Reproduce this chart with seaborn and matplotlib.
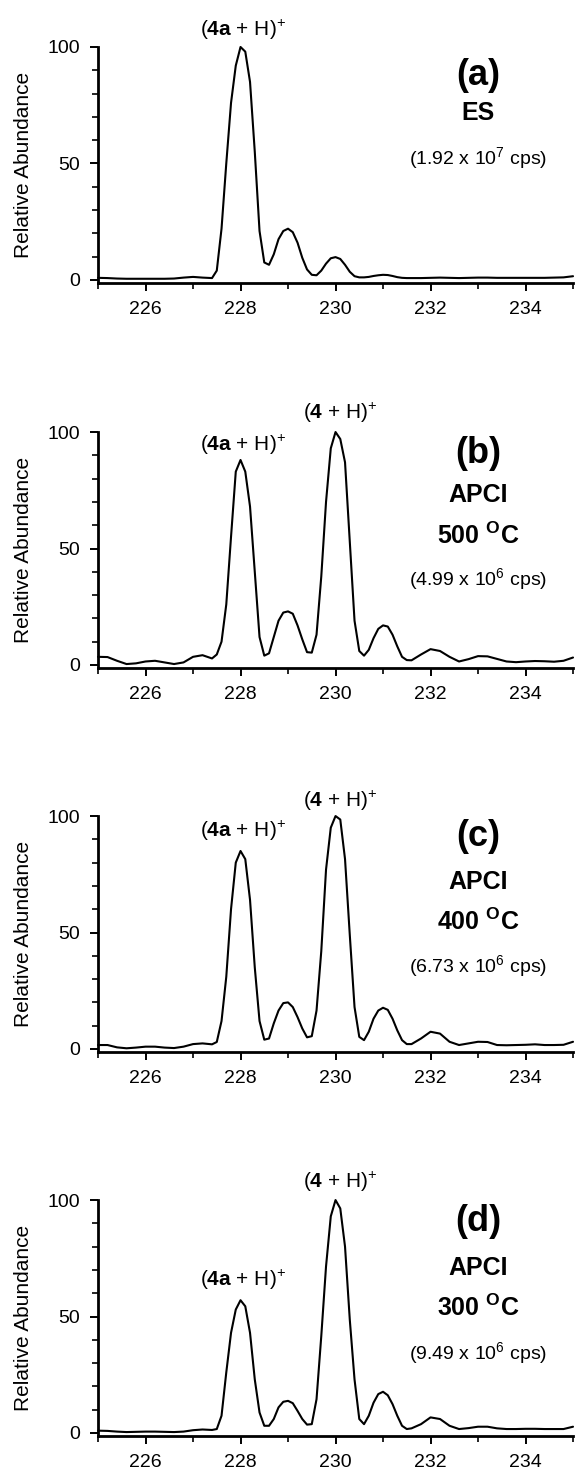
import matplotlib
matplotlib.use("Agg")
import pandas as pd
import matplotlib.pyplot as plt
import seaborn as sns

# m/z sampling points
mz = [225.0, 225.2, 225.4, 225.6, 225.8, 226.0, 226.2, 226.4, 226.6, 226.8, 227.0, 227.2, 227.4,
      227.5, 227.6, 227.7, 227.8, 227.9, 228.0, 228.1, 228.2, 228.3, 228.4, 228.5, 228.6, 228.7,
      228.8, 228.9, 229.0, 229.1, 229.2, 229.3, 229.4, 229.5, 229.6, 229.7, 229.8, 229.9, 230.0,
      230.1, 230.2, 230.3, 230.4, 230.5, 230.6, 230.7, 230.8, 230.9, 231.0, 231.1, 231.2, 231.3,
      231.4, 231.5, 231.6,
      231.8, 232.0, 232.2, 232.4, 232.6, 232.8, 233.0, 233.2, 233.4, 233.6, 233.8, 234.0, 234.2,
      234.4, 234.6, 234.8, 235.0]

# (a) ES
es = [0.9, 0.8, 0.6, 0.5, 0.5, 0.5, 0.5, 0.5, 0.6, 1.0, 1.3, 1.0, 0.8,
      4, 22, 50, 76, 92, 100, 98, 85, 55, 21, 7.5, 6.5, 11,
      17.5, 21, 22, 20.5, 16, 9.5, 4.5, 2.2, 2.0, 4, 7, 9.3, 9.8,
      9, 6.5, 3.5, 1.6, 1.1, 1.1, 1.3, 1.7, 2.0, 2.2, 2.1, 1.7, 1.2,
      0.9, 0.8, 0.8,
      0.8, 0.9, 1.0, 0.9, 0.8, 0.9, 1.0, 1.0, 0.9, 0.9, 0.9, 0.9, 0.9,
      0.9, 1.0, 1.1, 1.6]

# (b) APCI 500 C
apci_500 = [3.5, 3.4, 1.8, 0.4, 0.7, 1.5, 1.8, 1.1, 0.4, 1.1, 3.5, 4.2, 2.8,
            4.5, 10, 26, 55, 83, 88, 83, 68, 40, 12, 4, 5, 12,
            19, 22.5, 23, 22, 17, 11, 5.5, 5.3, 13, 38, 70, 93, 100,
            97, 87, 53, 19, 6, 4, 6.5, 11.5, 15.5, 17, 16.5, 13, 8,
            3.5, 2.1, 2.0,
            4.5, 6.8, 6, 3.5, 1.5, 2.5, 3.8, 3.7, 2.6, 1.5, 1.2, 1.5, 1.7,
            1.6, 1.4, 1.8, 3.2]

# (c) APCI 400 C
apci_400 = [1.7, 1.7, 0.7, 0.3, 0.6, 1.0, 1.0, 0.6, 0.4, 1.0, 2.1, 2.4, 2.0,
            3, 12, 31, 60, 80, 85, 81.5, 64, 35, 12, 4, 4.5, 11,
            16.5, 19.7, 20, 18, 13.7, 8.8, 5, 5.5, 16.5, 42, 77, 95, 100,
            98.5, 81.5, 49, 18, 5.2, 3.8, 7.4, 13, 16.5, 17.7, 16.8, 13, 8,
            3.8, 2.1, 2.1,
            4.5, 7.4, 6.6, 3.1, 1.7, 2.4, 3.1, 3.0, 1.7, 1.6, 1.7, 1.8, 2.0,
            1.7, 1.7, 1.8, 3.1]

# (d) APCI 300 C
apci_300 = [1.0, 0.9, 0.6, 0.4, 0.5, 0.6, 0.6, 0.5, 0.4, 0.6, 1.2, 1.5, 1.3,
            1.7, 7.4, 26, 43, 53, 57, 54.4, 43, 23, 8.8, 3.1, 3.1, 6,
            11, 13.4, 13.8, 12.8, 9.5, 6, 3.6, 3.8, 14.5, 41.6, 71.5, 93, 100,
            96.4, 80, 48.7, 23, 6, 3.8, 7.4, 13, 16.7, 17.7, 16.2, 12.4, 7.4,
            3.1, 1.7, 2.0,
            3.8, 6.7, 6, 3.1, 1.7, 2.1, 2.7, 2.7, 2.0, 1.7, 1.7, 1.8, 1.8,
            1.7, 1.7, 1.7, 2.7]

spectra = [es, apci_500, apci_400, apci_300]
panel_tags = ["(a)", "(b)", "(c)", "(d)"]
panel_modes = ["ES", "APCI", "APCI", "APCI"]
panel_temps = [None, "500", "400", "300"]
panel_counts = ["1.92 x 10$^{7}$", "4.99 x 10$^{6}$", "6.73 x 10$^{6}$", "9.49 x 10$^{6}$"]
peak_4a = "($\\mathbf{4a}$ + H)$^{+}$"
peak_4 = "($\\mathbf{4}$ + H)$^{+}$"

sns.set_theme(style="ticks")
plt.rcParams['font.family'] = ['Liberation Sans', 'DejaVu Sans']
plt.rcParams['mathtext.fontset'] = 'custom'
plt.rcParams['mathtext.rm'] = 'Liberation Sans'
plt.rcParams['mathtext.it'] = 'Liberation Sans:italic'
plt.rcParams['mathtext.bf'] = 'Liberation Sans:bold'
plt.rcParams['text.color'] = 'black'
plt.rcParams['axes.labelcolor'] = 'black'

fig = plt.figure(figsize=(5.78, 14.73), dpi=100)
bottoms = [0.8079, 0.5465, 0.2858, 0.0251]

# label baselines (data units) per panel
y_4a = [104.6, 92, 90.8, 63]
y_4 = [None, 105.6, 104, 105]
y_tag = [83.5, 86.5, 87.2, 86.8]
y_mode = [68.8, 70, 68.8, 68]
y_temp = [None, 52, 51.2, 50.2]
y_cnt = [49.9, 34.3, 32.8, 31.6]

for i in range(4):
    ax = fig.add_axes([0.1696, bottoms[i], 0.8218, 0.1602])
    df = pd.DataFrame({"mz": mz, "abundance": spectra[i]})
    sns.lineplot(data=df, x="mz", y="abundance", ax=ax, color="black",
                 linewidth=1.5, clip_on=False)
    ax.set_xlim(225, 235)
    ax.set_ylim(-1.3, 100)
    ax.set_xticks([226, 228, 230, 232, 234])
    ax.set_xticks([225, 227, 229, 231, 233, 235], minor=True)
    ax.set_yticks([0, 50, 100])
    ax.set_yticks(list(range(0, 101, 10)), minor=True)
    ax.set_xlabel("")
    ax.set_ylabel("Relative Abundance", fontsize=15)
    ax.yaxis.set_label_coords(-0.137, 0.5)
    sns.despine(ax=ax)
    for s in ["left", "bottom"]:
        ax.spines[s].set_linewidth(2)
        ax.spines[s].set_color("black")
    ax.tick_params(which="major", length=5.8, width=1.4, labelsize=14, pad=7,
                   color="black", labelcolor="black")
    ax.tick_params(which="minor", length=4.3, width=1.2, color="black")

    ax.text(228.05, y_4a[i], peak_4a, ha="center", va="baseline", fontsize=15)
    if y_4[i] is not None:
        ax.text(230.1, y_4[i], peak_4, ha="center", va="baseline", fontsize=15)

    ax.text(233.0, y_tag[i], panel_tags[i], ha="center", va="baseline",
            fontsize=26, fontweight="bold")
    ax.text(233.0, y_mode[i], panel_modes[i], ha="center", va="baseline",
            fontsize=18, fontweight="bold")
    if panel_temps[i] is not None:
        ax.text(233.0, y_temp[i], panel_temps[i] + " $^{\\mathbf{O}}$C",
                ha="center", va="baseline", fontsize=18, fontweight="bold")
    ax.text(233.0, y_cnt[i], "(" + panel_counts[i] + " cps)", ha="center",
            va="baseline", fontsize=14)

fig.savefig("out.png", dpi=100)
